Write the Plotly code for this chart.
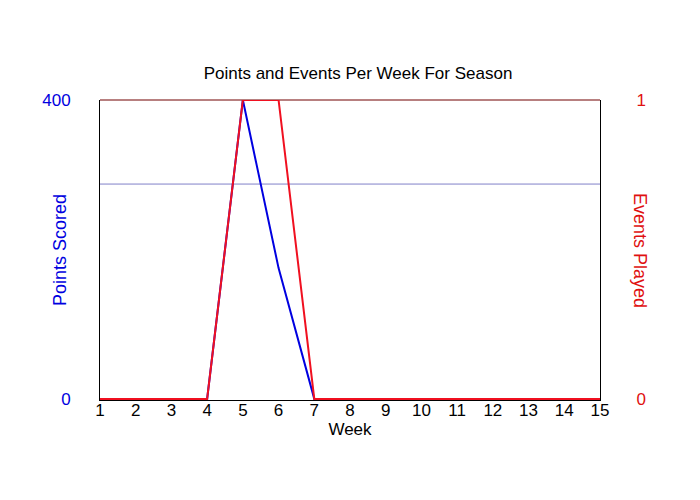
import plotly.graph_objects as go

# weekly season data
weeks = list(range(1, 16))
points_scored = [0, 0, 0, 0, 400, 175, 0, 0, 0, 0, 0, 0, 0, 0, 0]
events_played = [0, 0, 0, 0, 1, 1, 0, 0, 0, 0, 0, 0, 0, 0, 0]

# average points per event played
avg_points = sum(points_scored) / sum(events_played)

FONT = "Liberation Sans, Arial, sans-serif"

fig = go.Figure()

fig.add_trace(go.Scatter(
    x=[weeks[0], weeks[-1]], y=[avg_points, avg_points],
    mode="lines", line=dict(color="#8080C8", width=1),
    showlegend=False, hoverinfo="skip",
))
fig.add_trace(go.Scatter(
    x=weeks, y=points_scored, mode="lines",
    line=dict(color="#0000E0", width=2),
    name="Points Scored", showlegend=False,
))
fig.add_trace(go.Scatter(
    x=weeks, y=events_played, mode="lines", yaxis="y2",
    line=dict(color="#F01020", width=2),
    name="Events Played", showlegend=False,
))

fig.update_layout(
    width=700, height=500,
    # page body has an 8px margin, so pull the plot area back
    margin=dict(l=92, r=108, t=92, b=108),
    paper_bgcolor="white", plot_bgcolor="white",
    font=dict(family=FONT, size=16, color="black"),
    title=dict(
        text="Points and Events Per Week For Season",
        x=0.5, xanchor="center", y=0.87, yanchor="middle",
        font=dict(size=17, color="black"),
    ),
    xaxis=dict(
        range=[1, 15], tickvals=weeks, ticks="",
        showgrid=False, zeroline=False,
        showline=True, linecolor="black", linewidth=1,
        layer="below traces",
        tickfont=dict(size=17, color="black"),
        ticklabelstandoff=-5,
        title=dict(text="Week", standoff=0, font=dict(size=17)),
    ),
    yaxis=dict(
        range=[-1.5, 400], tickvals=[0, 400], ticks="",
        showgrid=False, zeroline=False,
        showline=True, linecolor="black", linewidth=1,
        layer="below traces",
        tickfont=dict(size=17, color="#0000E0"),
        ticklabelstandoff=25,
    ),
    yaxis2=dict(
        range=[-1.5 / 400, 1], tickvals=[0, 1], ticks="",
        overlaying="y", side="right",
        showgrid=False, zeroline=False,
        showline=True, linecolor="black", linewidth=1,
        layer="below traces",
        tickfont=dict(size=17, color="#E01010"),
        ticklabelstandoff=32,
    ),
    shapes=[dict(
        type="line", xref="paper", yref="paper",
        x0=0, x1=1, y0=1, y1=1, layer="below",
        line=dict(color="#700000", width=1),
    )],
    annotations=[
        dict(text="Points Scored", xref="paper", yref="paper",
             x=-0.08, y=0.5, xanchor="center", yanchor="middle",
             textangle=-90, showarrow=False,
             font=dict(size=18, color="#0000E0")),
        dict(text="Events Played", xref="paper", yref="paper",
             x=1.08, y=0.5, xanchor="center", yanchor="middle",
             textangle=90, showarrow=False,
             font=dict(size=18, color="#E01010")),
    ],
)

fig.write_html("out.html")
